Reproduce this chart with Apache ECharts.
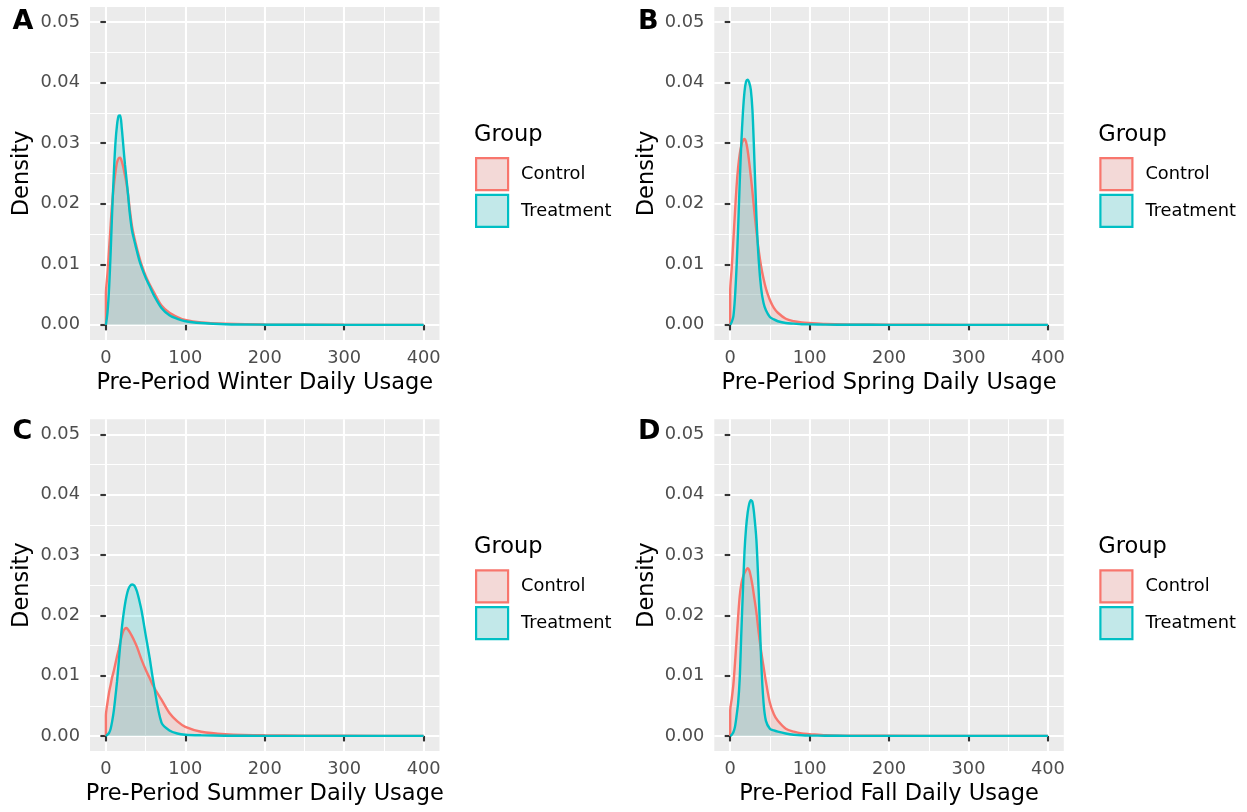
<!DOCTYPE html>
<html><head><meta charset="utf-8">
<script src="https://cdn.jsdelivr.net/npm/echarts@6/dist/echarts.min.js"></script>
<style>html,body{margin:0;padding:0;background:#fff}#c{width:1247px;height:812px}</style>
</head><body><div id="c"></div>
<script>
// ---- data ----
const xGrid = [0,2,4,6,8,10,12,14,16,18,20,22,24,26,28,30,33,36,39,42,45,50,55,60,70,80,90,100,120,150,200,300,400];

const winterControl   = [0.0050,0.0085,0.0125,0.0165,0.0203,0.0230,0.0252,0.0268,0.0275,0.0276,0.0270,0.0260,0.0247,0.0233,0.0215,0.0192,0.0162,0.0143,0.0127,0.0112,0.0099,0.0081,0.0067,0.0055,0.0032,0.0020,0.0013,0.0008,0.0004,0.0002,0.00006,0.00001,0];
const winterTreatment = [0,0.0020,0.0060,0.0120,0.0190,0.0250,0.0300,0.0330,0.0345,0.0346,0.0325,0.0295,0.0265,0.0240,0.0213,0.0185,0.0155,0.0138,0.0122,0.0107,0.0095,0.0078,0.0064,0.0050,0.0028,0.0016,0.0010,0.0006,0.0003,0.0001,0.00003,0,0];
const springControl   = [0.0055,0.0095,0.0140,0.0185,0.0228,0.0260,0.0282,0.0296,0.0304,0.0307,0.0302,0.0288,0.0268,0.0245,0.0220,0.0193,0.0155,0.0122,0.0096,0.0076,0.0060,0.0041,0.0028,0.0020,0.0010,0.0006,0.0004,0.0003,0.00015,0.00008,0.00003,0,0];
const springTreatment = [0,0.0005,0.0014,0.0045,0.0095,0.0160,0.0235,0.0300,0.0350,0.0385,0.0402,0.0405,0.0400,0.0388,0.0355,0.0290,0.0180,0.0105,0.0060,0.0036,0.0024,0.0013,0.0009,0.0006,0.0003,0.0002,0.0001,0.00008,0.00004,0.00002,0,0,0];
const summerControl   = [0.0033,0.0055,0.0072,0.0085,0.0098,0.0108,0.0120,0.0132,0.0143,0.0155,0.0166,0.0174,0.0178,0.0179,0.0176,0.0172,0.0165,0.0157,0.0148,0.0137,0.0126,0.0110,0.0096,0.0082,0.0060,0.0038,0.0024,0.0015,0.0007,0.0003,0.0001,0.00002,0];
const summerTreatment = [0,0.0002,0.0005,0.0012,0.0025,0.0042,0.0065,0.0090,0.0120,0.0150,0.0178,0.0200,0.0218,0.0232,0.0242,0.0248,0.0251,0.0249,0.0240,0.0225,0.0207,0.0168,0.0130,0.0088,0.0022,0.0009,0.0004,0.0002,0.0001,0.00004,0.00001,0,0];
const fallControl     = [0.0042,0.0062,0.0085,0.0120,0.0158,0.0198,0.0232,0.0252,0.0263,0.0270,0.0275,0.0278,0.0275,0.0264,0.0250,0.0232,0.0205,0.0170,0.0140,0.0115,0.0090,0.0055,0.0036,0.0025,0.0012,0.0007,0.0004,0.0003,0.0001,0.00005,0.00002,0,0];
const fallTreatment   = [0,0.0002,0.0006,0.0015,0.0033,0.0055,0.0095,0.0170,0.0240,0.0305,0.0345,0.0370,0.0385,0.0391,0.0388,0.0370,0.0325,0.0235,0.0125,0.0055,0.0025,0.0012,0.0009,0.0007,0.0004,0.0002,0.0001,0.00006,0.00003,0.00001,0,0,0];

const groups = ['Control', 'Treatment'];
const xTicks = [0, 100, 200, 300, 400];
const xMinorTicks = [50, 150, 250, 350];
const yTicks = [0, 0.01, 0.02, 0.03, 0.04, 0.05];
const yMinorTicks = [0.005, 0.015, 0.025, 0.035, 0.045];
const panelTags = ['A', 'B', 'C', 'D'];
const xTitles = ['Pre-Period Winter Daily Usage', 'Pre-Period Spring Daily Usage', 'Pre-Period Summer Daily Usage', 'Pre-Period Fall Daily Usage'];
const yTitle = 'Density';
const legendTitle = 'Group';

// ---- styling / layout ----
const FONT = 'DejaVu Sans';
const lineColors = { Control: '#F8766D', Treatment: '#00BFC4' };
const areaFills = { Control: 'rgba(248,118,109,0.2)', Treatment: 'rgba(0,191,196,0.2)' };
const keyFills = { Control: 'rgb(243,217,215)', Treatment: 'rgb(194,232,233)' };
const panelData = [
  [winterControl, winterTreatment],
  [springControl, springTreatment],
  [summerControl, summerTreatment],
  [fallControl, fallTreatment]
];
const layout = [
  { left: 90,    top: 7,     height: 333 },
  { left: 714.3, top: 7,     height: 333 },
  { left: 90,    top: 419.3, height: 331.7 },
  { left: 714.3, top: 419.3, height: 331.7 }
];
const PW = 349.5;
const tagPos = [[12.5, 21.5], [638, 21.5], [12.5, 431.5], [638, 432]];

const grids = [], xAxes = [], yAxes = [], series = [], legends = [], graphics = [];

layout.forEach((L, i) => {
  grids.push({ left: L.left, top: L.top, width: PW, height: L.height, show: true,
    backgroundColor: '#EBEBEB', borderWidth: 0, containLabel: false });

  // major x axis
  xAxes.push({
    gridIndex: i, type: 'value', min: -20, max: 420, position: 'bottom',
    axisLine: { show: false },
    axisTick: { show: true, length: 5.5, customValues: xTicks, lineStyle: { color: '#333333', width: 2.1 } },
    axisLabel: { show: true, customValues: xTicks, margin: 9.5, color: '#4D4D4D', fontSize: 17.8, fontFamily: FONT },
    splitLine: { show: true, lineStyle: { color: '#FFFFFF', width: 2.1 } },
    name: xTitles[i], nameLocation: 'middle', nameGap: 32,
    nameTextStyle: { fontSize: 22.5, color: '#000000', fontFamily: FONT }
  });
  // minor x axis (grid lines only)
  xAxes.push({
    gridIndex: i, type: 'value', min: -20, max: 420, position: 'top',
    axisLine: { show: false },
    axisTick: { show: false, customValues: xMinorTicks },
    axisLabel: { show: false, customValues: xMinorTicks },
    splitLine: { show: true, lineStyle: { color: '#FFFFFF', width: 1.07 } }
  });
  // major y axis
  yAxes.push({
    gridIndex: i, type: 'value', min: -0.0025, max: 0.0525, position: 'left',
    axisLine: { show: false },
    axisTick: { show: true, length: 5.5, customValues: yTicks, lineStyle: { color: '#333333', width: 2.1 } },
    axisLabel: { show: true, customValues: yTicks, margin: 10, color: '#4D4D4D', fontSize: 17.8, fontFamily: FONT,
      formatter: v => Number(v).toFixed(2) },
    splitLine: { show: true, lineStyle: { color: '#FFFFFF', width: 2.1 } },
    name: yTitle, nameLocation: 'middle', nameGap: 56, nameRotate: 90,
    nameTextStyle: { fontSize: 22.5, color: '#000000', fontFamily: FONT }
  });
  // minor y axis
  yAxes.push({
    gridIndex: i, type: 'value', min: -0.0025, max: 0.0525, position: 'right',
    axisLine: { show: false },
    axisTick: { show: false, customValues: yMinorTicks },
    axisLabel: { show: false, customValues: yMinorTicks },
    splitLine: { show: true, lineStyle: { color: '#FFFFFF', width: 1.07 } }
  });

  groups.forEach((g, k) => {
    const vals = panelData[i][k];
    const pts = [[xGrid[0], 0]].concat(xGrid.map((x, j) => [x, vals[j]]));
    series.push({
      name: g, type: 'line', xAxisIndex: 2 * i, yAxisIndex: 2 * i,
      data: pts, showSymbol: false, symbol: 'none', smooth: 0.3,
      lineStyle: { color: lineColors[g], width: 2.4 },
      itemStyle: { color: lineColors[g] },
      areaStyle: { color: areaFills[g], opacity: 1, origin: 0 },
      silent: true, animation: false, z: 3
    });
  });

  legends.push({
    orient: 'vertical', left: L.left + 385, top: L.top + 150, padding: 0,
    itemWidth: 32, itemHeight: 32, itemGap: 2.6, selectedMode: false,
    textStyle: { fontSize: 17.8, color: '#000000', fontFamily: FONT, padding: [0, 0, 0, 8] },
    data: groups.map(g => ({ name: g, icon: 'rect',
      itemStyle: { color: keyFills[g], borderColor: lineColors[g], borderWidth: 2.2 } }))
  });

  graphics.push({ type: 'text', x: L.left + 384, y: L.top + 128, silent: true,
    style: { text: legendTitle, font: '22.5px "' + FONT + '"', fill: '#000000', verticalAlign: 'middle', align: 'left' } });
  graphics.push({ type: 'text', x: tagPos[i][0], y: tagPos[i][1], silent: true,
    style: { text: panelTags[i], font: 'bold 27px "' + FONT + '"', fill: '#000000', verticalAlign: 'middle', align: 'left' } });
});

const chart = echarts.init(document.getElementById('c'), null, { renderer: 'canvas' });
chart.setOption({
  animation: false,
  backgroundColor: '#FFFFFF',
  grid: grids, xAxis: xAxes, yAxis: yAxes, series: series, legend: legends,
  graphic: { elements: graphics }
});
</script>
</body></html>
